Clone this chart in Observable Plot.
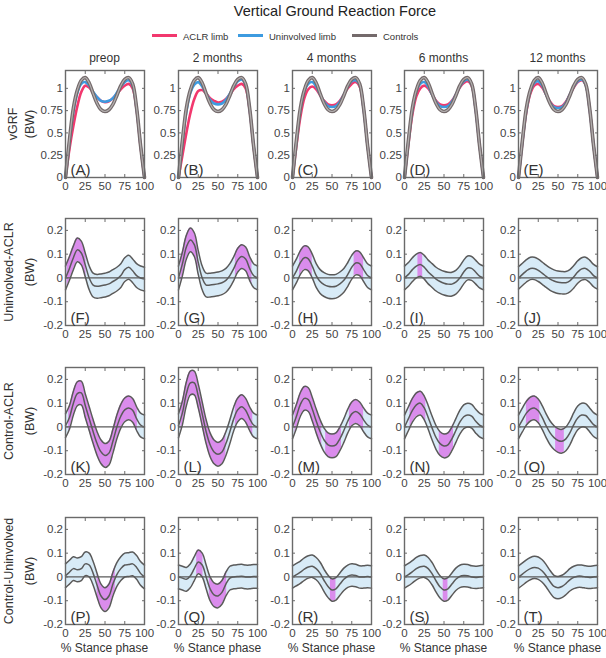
<!DOCTYPE html>
<html><head><meta charset="utf-8">
<script src="https://cdn.jsdelivr.net/npm/d3@7"></script>
<script src="https://cdn.jsdelivr.net/npm/@observablehq/plot@0.6"></script>
<style>
body{margin:0;background:#fff;font-family:"Liberation Sans",Arial,Helvetica,sans-serif;}
#root{position:relative;width:606px;height:658px;overflow:hidden;background:#fff;}
.abs{position:absolute;white-space:nowrap;color:#333;}
</style></head><body><div id="root"></div>
<script>
// ---------------- data ----------------
const chartTitle = "Vertical Ground Reaction Force";
const legendLabels = ["ACLR limb", "Uninvolved limb", "Controls"];
const timepoints = ["preop", "2 months", "4 months", "6 months", "12 months"];
const rowTitles = ["vGRF", "Uninvolved-ACLR", "Control-ACLR", "Control-Uninvolved"];
const unitLabel = "(BW)";
const xLabel = "% Stance phase";
const panelLetters = ["A","B","C","D","E","F","G","H","I","J","K","L","M","N","O","P","Q","R","S","T"];
const stance = [0,5,10,15,20,25,30,35,40,45,50,55,60,65,70,75,80,85,90,95,100];
const xTicks = [0,25,50,75,100];
const vgrfTicks = [0,0.25,0.5,0.75,1];
const diffTicks = [-0.2,-0.1,0,0.1,0.2];

// Row 1: vGRF (BW)
const controlsVGRF = [0.00,0.42,0.78,0.98,1.09,1.12,1.06,0.94,0.83,0.76,0.74,0.76,0.82,0.92,1.03,1.10,1.12,1.05,0.78,0.36,0.00];
const aclrVGRF = [
  [0.00,0.32,0.58,0.80,0.96,1.03,1.01,0.95,0.90,0.86,0.845,0.855,0.89,0.94,0.99,1.03,1.05,1.00,0.76,0.35,0.00],
  [0.00,0.25,0.50,0.72,0.88,0.97,0.98,0.94,0.89,0.86,0.84,0.85,0.88,0.93,0.99,1.03,1.05,1.00,0.76,0.35,0.00],
  [0.00,0.36,0.68,0.89,0.99,1.02,0.99,0.92,0.86,0.82,0.81,0.82,0.86,0.93,1.00,1.05,1.07,1.02,0.77,0.36,0.00],
  [0.00,0.38,0.71,0.91,1.00,1.03,1.00,0.93,0.86,0.82,0.81,0.82,0.86,0.93,1.01,1.06,1.08,1.03,0.77,0.36,0.00],
  [0.00,0.40,0.74,0.94,1.03,1.05,1.01,0.93,0.85,0.80,0.79,0.80,0.85,0.93,1.01,1.07,1.09,1.04,0.77,0.36,0.00]
];
const uninvVGRF = [
  [0.00,0.40,0.74,0.95,1.05,1.07,1.03,0.96,0.90,0.86,0.85,0.86,0.89,0.95,1.02,1.07,1.09,1.03,0.77,0.36,0.00],
  [0.00,0.40,0.74,0.95,1.04,1.07,1.02,0.94,0.87,0.83,0.82,0.83,0.87,0.94,1.02,1.08,1.10,1.04,0.77,0.36,0.00],
  [0.00,0.41,0.76,0.97,1.05,1.07,1.02,0.93,0.85,0.80,0.79,0.80,0.85,0.93,1.02,1.08,1.09,1.04,0.77,0.36,0.00],
  [0.00,0.41,0.76,0.97,1.05,1.07,1.02,0.93,0.85,0.80,0.79,0.80,0.85,0.93,1.02,1.08,1.10,1.04,0.77,0.36,0.00],
  [0.00,0.41,0.76,0.97,1.06,1.08,1.03,0.93,0.84,0.79,0.78,0.79,0.84,0.93,1.02,1.08,1.10,1.04,0.77,0.36,0.00]
];

// Rows 2-4: mean differences (BW)
const uninvMinusAclr = [
  [0.00,0.04,0.085,0.118,0.105,0.055,0.00,-0.03,-0.035,-0.033,-0.03,-0.025,-0.015,-0.005,0.01,0.035,0.045,0.03,0.01,0.00,-0.005],
  [0.00,0.06,0.13,0.16,0.14,0.065,0.00,-0.03,-0.03,-0.028,-0.025,-0.02,-0.01,0.01,0.04,0.075,0.09,0.08,0.04,0.01,0.00],
  [0.00,0.03,0.065,0.085,0.08,0.05,0.01,-0.015,-0.028,-0.035,-0.037,-0.035,-0.025,-0.01,0.015,0.045,0.063,0.06,0.035,0.01,0.00],
  [0.00,0.015,0.035,0.05,0.057,0.045,0.025,0.01,-0.005,-0.015,-0.022,-0.026,-0.026,-0.018,0.00,0.025,0.042,0.04,0.025,0.008,0.00],
  [0.00,0.015,0.03,0.04,0.04,0.032,0.02,0.007,-0.005,-0.013,-0.018,-0.02,-0.02,-0.012,0.005,0.025,0.038,0.04,0.028,0.01,0.00]
];
const ctrlMinusAclr = [
  [0.005,0.04,0.10,0.14,0.143,0.09,0.035,-0.02,-0.07,-0.105,-0.12,-0.11,-0.06,0.00,0.045,0.072,0.08,0.07,0.035,0.008,0.00],
  [0.005,0.06,0.14,0.185,0.185,0.13,0.055,-0.02,-0.075,-0.105,-0.115,-0.105,-0.07,-0.02,0.035,0.072,0.085,0.07,0.035,0.008,0.00],
  [0.00,0.045,0.095,0.12,0.115,0.075,0.025,-0.02,-0.055,-0.075,-0.08,-0.075,-0.05,-0.015,0.025,0.055,0.065,0.055,0.03,0.008,0.00],
  [0.00,0.035,0.07,0.093,0.10,0.08,0.04,-0.005,-0.045,-0.07,-0.08,-0.075,-0.05,-0.015,0.02,0.043,0.05,0.045,0.025,0.008,0.00],
  [0.00,0.03,0.058,0.075,0.08,0.068,0.04,0.005,-0.025,-0.045,-0.057,-0.06,-0.05,-0.025,0.01,0.038,0.05,0.048,0.03,0.01,0.00]
];
const ctrlMinusUninv = [
  [0.005,0.02,0.035,0.03,0.035,0.055,0.05,0.015,-0.035,-0.08,-0.095,-0.08,-0.03,0.01,0.035,0.05,0.052,0.055,0.04,0.015,0.00],
  [0.00,-0.005,-0.01,0.005,0.035,0.063,0.05,0.00,-0.05,-0.075,-0.08,-0.065,-0.03,-0.005,0.00,0.002,0.003,0.00,0.00,0.002,0.002],
  [0.00,0.01,0.02,0.033,0.042,0.045,0.035,0.015,-0.015,-0.04,-0.055,-0.05,-0.03,-0.01,0.003,0.008,0.006,0.00,0.00,0.002,0.00],
  [0.00,0.01,0.022,0.035,0.043,0.045,0.035,0.013,-0.017,-0.042,-0.055,-0.05,-0.03,-0.01,0.002,0.006,0.005,0.00,-0.002,0.00,0.002],
  [0.00,0.012,0.025,0.035,0.04,0.037,0.025,0.005,-0.02,-0.04,-0.045,-0.04,-0.028,-0.012,-0.002,0.003,0.003,0.00,-0.002,0.00,0.002]
];
// half-width of the shaded confidence band
const ciUninvAclr = [0.05,0.05,0.05,0.05,0.047];
const ciCtrlAclr = [0.05,0.05,0.05,0.05,0.05];
const ciCtrlUninv = [0.05,0.05,0.047,0.047,0.047];
// significant stance-phase intervals [start, end]
const sigUninvAclr = [[[2,26]], [[3,25],[72,93]], [[9,25],[78,90]], [[17,23]], []];
const sigCtrlAclr = [[[4,91]], [[3,60],[72,94]], [[3,37],[42,62],[72,90]], [[7,27],[44,62]], [[10,27],[47,58]]];
const sigCtrlUninv = [[[40,63]], [[23,31],[39,61]], [[48,55]], [[49,55]], []];

// ---------------- layout / style ----------------
const FONT = '"Liberation Sans", Arial, Helvetica, sans-serif';
const colors = {aclr: "#f2386e", uninv: "#3d9be0", ctrl: "#746a6b", ctrlIn: "#b4b0b0",
  band: "#d8ebf7", sig: "#da8cec", edge: "#5a5a5a", axis: "#6a6a6a", text: "#444"};
const boxLeft = [65,178,292,404,518], boxTop = [70,218,367,517];
const BW = 79, BH = 107;
const ML = 40, MR = 6, MT = 4, MB = 22;

const root = document.getElementById("root");
function addText(txt, x, y, opts = {}) {
  const d = document.createElement("div");
  d.className = "abs";
  d.textContent = txt;
  d.style.left = x + "px"; d.style.top = y + "px";
  d.style.fontSize = (opts.size || 12) + "px";
  d.style.transform = "translate(-50%,-50%)" + (opts.rotate ? " rotate(-90deg)" : "");
  if (opts.color) d.style.color = opts.color;
  root.appendChild(d);
  return d;
}

// title + legend
addText(chartTitle, 335, 11, {size: 14.5, color: "#222"});
const legendX = [152, 238, 352];
legendLabels.forEach((lab, i) => {
  const c = [colors.aclr, colors.uninv, colors.ctrl][i];
  const ln = document.createElement("div");
  ln.className = "abs";
  ln.style.left = legendX[i] + "px"; ln.style.top = "34px";
  ln.style.width = "25px"; ln.style.height = "3px"; ln.style.background = c;
  root.appendChild(ln);
  const t = addText(lab, legendX[i] + 31, 35.5, {size: 9.5, color: "#333"});
  t.style.transform = "translate(0,-50%)";
});

// column headers
timepoints.forEach((t, c) => addText(t, boxLeft[c] + BW / 2, 58, {size: 12, color: "#333"}));
// row labels
const rowCenters = boxTop.map(t => t + BH / 2);
rowTitles.forEach((t, r) => {
  addText(t, r === 0 ? 13 : 9, rowCenters[r], {size: 12.5, rotate: true, color: "#333"});
  addText(unitLabel, 30, rowCenters[r], {size: 12.5, rotate: true, color: "#333"});
});
// x-axis titles
timepoints.forEach((t, c) => addText(xLabel, boxLeft[c] + BW / 2, 648, {size: 12, color: "#333"}));

const fmt = d => String(d);
function axes(yTicks) {
  const common = {tickSize: -3, stroke: colors.axis, fill: colors.text, fontSize: 11.5, strokeWidth: 1, label: null};
  return [
    Plot.axisX(xTicks, {...common, anchor: "bottom", tickPadding: 7, tickFormat: fmt}),
    Plot.axisX(xTicks, {...common, anchor: "top", tickPadding: 3, tickFormat: () => ""}),
    Plot.axisY(yTicks, {...common, anchor: "left", tickPadding: 5.5, tickFormat: fmt}),
    Plot.axisY(yTicks, {...common, anchor: "right", tickPadding: 3, tickFormat: () => ""})
  ];
}

function panel(r, c) {
  const marks = [];
  let yDom;
  if (r === 0) {
    yDom = [0, 1.2];
    const rows = stance.map((x, i) => ({x, a: aclrVGRF[c][i], u: uninvVGRF[c][i], k: controlsVGRF[i]}));
    const cv = "catmull-rom";
    marks.push(
      Plot.line(rows, {x: "x", y: "a", stroke: colors.aclr, strokeWidth: 2.6, curve: cv}),
      Plot.line(rows, {x: "x", y: "u", stroke: colors.uninv, strokeWidth: 2.6, curve: cv}),
      Plot.line(rows, {x: "x", y: "k", stroke: colors.ctrl, strokeWidth: 3.6, curve: cv}),
      Plot.line(rows, {x: "x", y: "k", stroke: colors.ctrlIn, strokeWidth: 1.2, curve: cv})
    );
  } else {
    yDom = [-0.2, 0.25];
    const mean = [uninvMinusAclr, ctrlMinusAclr, ctrlMinusUninv][r - 1][c];
    const hw = [ciUninvAclr, ciCtrlAclr, ciCtrlUninv][r - 1][c];
    const sig = [sigUninvAclr, sigCtrlAclr, sigCtrlUninv][r - 1][c];
    const rows = stance.map((x, i) => ({x, m: mean[i], lo: mean[i] - hw, hi: mean[i] + hw}));
    const cv = "catmull-rom";
    marks.push(
      Plot.areaY(rows, {x: "x", y1: "lo", y2: "hi", fill: colors.band, curve: cv}),
      Plot.rect(sig, {x1: d => d[0], x2: d => d[1], fill: colors.sig}),
      Plot.areaY(rows, {x: "x", y1: "hi", y2: () => yDom[1], fill: "white", curve: cv}),
      Plot.areaY(rows, {x: "x", y1: "lo", y2: () => yDom[0], fill: "white", curve: cv}),
      Plot.ruleY([0], {stroke: colors.edge, strokeWidth: 1.3}),
      Plot.line(rows, {x: "x", y: "hi", stroke: colors.edge, strokeWidth: 1.5, curve: cv}),
      Plot.line(rows, {x: "x", y: "lo", stroke: colors.edge, strokeWidth: 1.5, curve: cv}),
      Plot.line(rows, {x: "x", y: "m", stroke: colors.edge, strokeWidth: 1.5, curve: cv})
    );
  }
  marks.push(
    Plot.frame({stroke: colors.axis, strokeWidth: 1.4}),
    ...axes(r === 0 ? vgrfTicks : diffTicks),
    Plot.text(["(" + panelLetters[r * 5 + c] + ")"], {text: d => d, frameAnchor: "bottom-left",
      textAnchor: "start", lineAnchor: "bottom", dx: 5, dy: -3, fontSize: 15, fill: "#333"})
  );
  const svg = Plot.plot({
    width: ML + BW + MR, height: MT + BH + MB,
    marginLeft: ML, marginRight: MR, marginTop: MT, marginBottom: MB,
    style: {background: "transparent", fontFamily: FONT, overflow: "visible"},
    x: {domain: [0, 100], label: null},
    y: {domain: yDom, label: null},
    marks
  });
  svg.style.position = "absolute";
  svg.style.left = (boxLeft[c] - ML) + "px";
  svg.style.top = (boxTop[r] - MT) + "px";
  svg.style.maxWidth = "none";
  root.appendChild(svg);
}

for (let r = 0; r < 4; r++) for (let c = 0; c < 5; c++) panel(r, c);
</script></body></html>
